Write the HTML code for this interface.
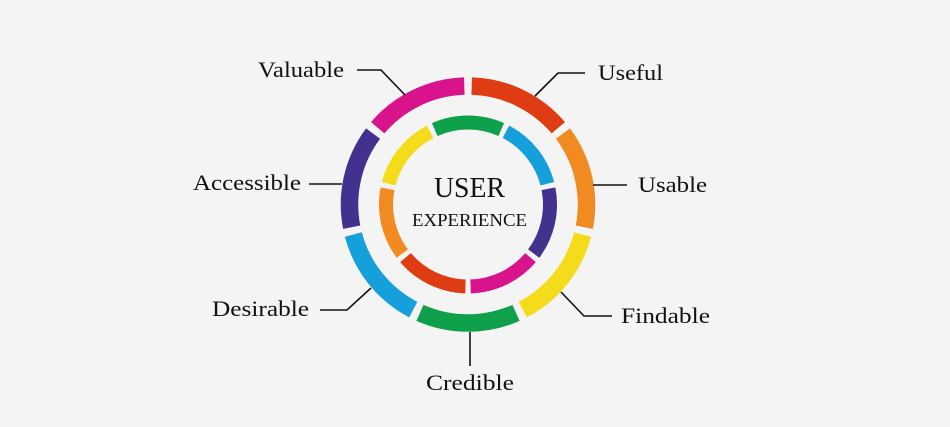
<!DOCTYPE html>
<html><head><meta charset="utf-8"><style>
html,body{margin:0;padding:0;background:#f4f4f4;width:950px;height:427px;overflow:hidden}
text{font-family:"Liberation Serif",serif;fill:#111}
</style></head><body>
<svg id="s" width="950" height="427" viewBox="0 0 950 427" xmlns="http://www.w3.org/2000/svg">
<rect width="950" height="427" fill="#f4f4f4"/>
<g id="rings"></g>
<g stroke="#111" stroke-width="1.6" fill="none">
<polyline points="357,70 381,70 405,95"/>
<polyline points="535,96 558,73 585,73"/>
<line x1="593" y1="185" x2="627" y2="185"/>
<polyline points="561,292 584,316 612,316"/>
<line x1="470" y1="332" x2="470" y2="366"/>
<polyline points="320,310 347,310 371,288"/>
<line x1="309" y1="184" x2="342" y2="184"/>
</g>
<g font-size="22" lengthAdjust="spacingAndGlyphs">
<text x="258" y="77" textLength="86" lengthAdjust="spacingAndGlyphs">Valuable</text>
<text x="598" y="80" textLength="65" lengthAdjust="spacingAndGlyphs">Useful</text>
<text x="638" y="192" textLength="69" lengthAdjust="spacingAndGlyphs">Usable</text>
<text x="621" y="323" textLength="89" lengthAdjust="spacingAndGlyphs">Findable</text>
<text x="426" y="390" textLength="88" lengthAdjust="spacingAndGlyphs">Credible</text>
<text x="212" y="316" textLength="97" lengthAdjust="spacingAndGlyphs">Desirable</text>
<text x="193" y="190" textLength="108" lengthAdjust="spacingAndGlyphs">Accessible</text>
</g>
<text x="434" y="197" font-size="29" textLength="71" lengthAdjust="spacingAndGlyphs">USER</text>
<text x="412" y="226" font-size="18" textLength="115" lengthAdjust="spacingAndGlyphs">EXPERIENCE</text>
</svg>
<script>
var cx=468,cy=204.5,g=document.getElementById('rings');
function arc(r,w,a0,a1,col){
 function p(a){var t=(a-90)*Math.PI/180;return [cx+r*Math.cos(t),cy+r*Math.sin(t)];}
 var s=p(a0),e=p(a1);
 var el=document.createElementNS('http://www.w3.org/2000/svg','path');
 el.setAttribute('d','M'+s[0]+' '+s[1]+' A'+r+' '+r+' 0 0 1 '+e[0]+' '+e[1]);
 el.setAttribute('stroke',col);el.setAttribute('stroke-width',w);el.setAttribute('fill','none');
 g.appendChild(el);
}
var step=360/7;
var outer=['#e03c14','#f28a22','#f5dc1a','#0ea04a','#15a0dc','#43308f','#d9138c'];
for(var i=0;i<7;i++)arc(118.5,17.5,i*step+1.8,(i+1)*step-1.8,outer[i]);
var inner=['#e03c14','#f28a22','#f5dc1a','#0ea04a','#15a0dc','#43308f','#d9138c'];
for(var i=0;i<7;i++)arc(82,14,180+i*step+1.8,180+(i+1)*step-1.8,inner[i]);
</script>
</body></html>
